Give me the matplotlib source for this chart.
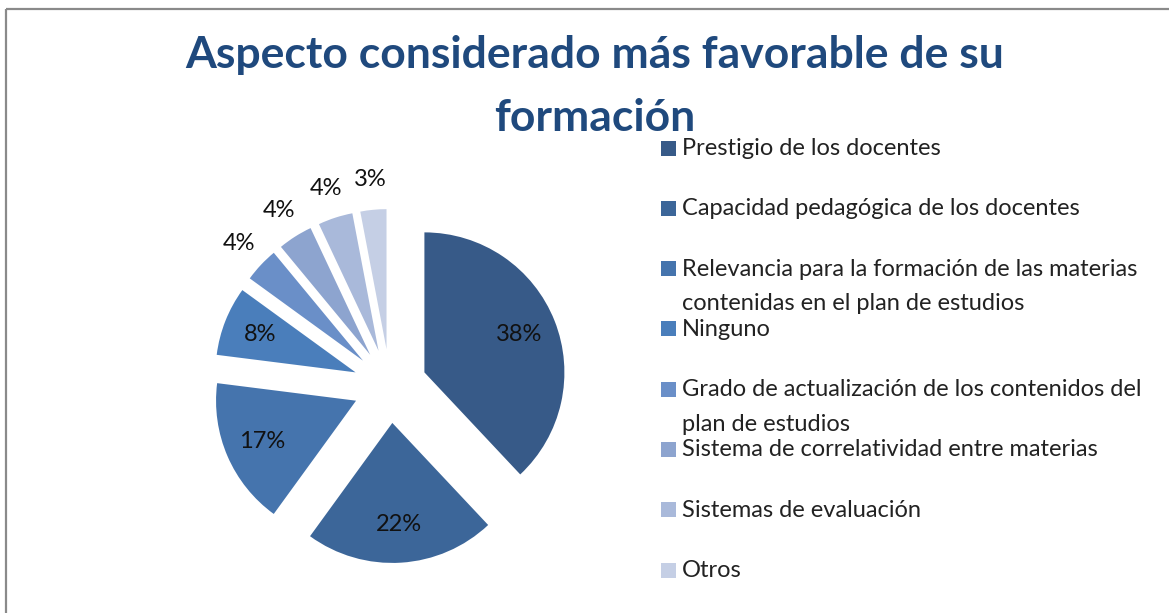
import textwrap
import numpy as np
import matplotlib.pyplot as plt
from matplotlib.patches import Rectangle

# survey shares (%) and their categories
categorias = [
    "Prestigio de los docentes",
    "Capacidad pedagógica de los docentes",
    "Relevancia para la formación de las materias contenidas en el plan de estudios",
    "Ninguno",
    "Grado de actualización de los contenidos del plan de estudios",
    "Sistema de correlatividad entre materias",
    "Sistemas de evaluación",
    "Otros",
]
porcentajes = [38, 22, 17, 8, 4, 4, 4, 3]
colores = ["#375A88", "#3C6699", "#4574AD", "#4A7EBB",
           "#6A8FC8", "#8DA4CF", "#A9B9DA", "#C5CFE5"]
titulo = "Aspecto considerado más favorable de su\nformación"

W, H = 1169, 613
plt.rcParams['font.family'] = ['Lato', 'DejaVu Sans']

fig = plt.figure(figsize=(W / 100, H / 100), dpi=100)
ax = fig.add_axes([0, 0, 1, 1])

# pixel-like data coords, y measured from the top
def Y(y):
    return H - y

# explode is in data units here (radius is 140)
wedges, _, pct = ax.pie(
    porcentajes, colors=colores, startangle=90, counterclock=False,
    explode=[37] * len(porcentajes), center=(390, Y(386)), radius=140,
    autopct=lambda p: f"{p:.0f}%", textprops=dict(fontsize=17, color="#111111"),
    wedgeprops=dict(linewidth=0),
)

# big slices get their label inside, small ones outside
for w, t, v in zip(wedges, pct, porcentajes):
    ang = np.deg2rad((w.theta1 + w.theta2) / 2)
    f = 0.73 if v >= 8 else 1.22
    cx, cy = w.center
    t.set_position((cx + w.r * f * np.cos(ang), cy + w.r * f * np.sin(ang)))

ax.set_xlim(0, W)
ax.set_ylim(0, H)
ax.set_aspect('equal')
ax.axis('off')

ax.text(595, Y(35), titulo, ha='center', va='top', fontsize=32,
        fontweight='bold', color="#1F497D", linespacing=1.7)

# legend, one slot per category
for i, (lab, col) in enumerate(zip(categorias, colores)):
    yc = 148 + 60.3 * i
    ax.add_patch(Rectangle((661, Y(yc + 7.5)), 15, 15, color=col, lw=0))
    ax.text(682, Y(yc - 10), textwrap.fill(lab, 44), ha='left', va='top',
            fontsize=17, color="#222222", linespacing=1.8)

# chart frame
ax.plot([6, W], [Y(9), Y(9)], color="#8A8A8A", lw=1.6, solid_capstyle='butt')
ax.plot([6, 6], [Y(9), 0], color="#8A8A8A", lw=1.6, solid_capstyle='butt')

fig.savefig("out.png", dpi=100)
